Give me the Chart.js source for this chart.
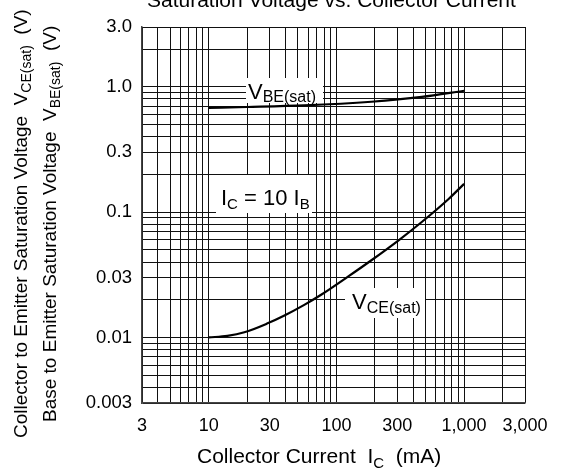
<!DOCTYPE html>
<html><head><meta charset="utf-8">
<script src="https://cdn.jsdelivr.net/npm/chart.js@4.4.0/dist/chart.umd.min.js"></script>
<style>html,body{margin:0;padding:0;background:#fff}#wrap{width:564px;height:474px;position:relative}</style>
</head><body><div id="wrap"><canvas id="c"></canvas></div>
<script>
// ---- data ----
const xGridValues = [3,4,5,6,7,8,9,10,20,30,40,50,60,70,80,90,100,200,300,400,500,600,700,800,900,1000,2000,3000];
const xLabelValues = [3,10,30,100,300,1000,3000];
const xLabelTexts = ['3','10','30','100','300','1,000','3,000'];
const yGridValues = [0.003,0.004,0.005,0.006,0.007,0.008,0.009,0.01,0.02,0.03,0.04,0.05,0.06,0.07,0.08,0.09,0.1,0.2,0.3,0.4,0.5,0.6,0.7,0.8,0.9,1,2,3];
const yLabelValues = [0.003,0.01,0.03,0.1,0.3,1,3];
const yLabelTexts = ['0.003','0.01','0.03','0.1','0.3','1.0','3.0'];
const vbeCurrent = [10,20,56,188,466,1000];
const vbeVoltage = [0.68,0.69,0.71,0.76,0.83,0.93];
const vceCurrent = [10,14,19,28.6,38.8,56,75.9,124,188,307,466,760,1000];
const vceVoltage = [0.0100,0.0103,0.0110,0.0129,0.0149,0.0182,0.0219,0.0307,0.0413,0.0596,0.0834,0.128,0.168];

const FONT = '"Liberation Sans", Arial, Helvetica, sans-serif';
function labelFor(values, texts, v){
  for (let i=0;i<values.length;i++){ if (Math.abs(Math.log10(values[i])-Math.log10(v))<1e-6) return texts[i]; }
  return '';
}
function drawRich(ctx, parts, x, y){
  let cx = x;
  for (const p of parts){
    ctx.font = p.size + 'px ' + FONT;
    ctx.fillText(p.t, cx, y + (p.dy||0));
    cx += ctx.measureText(p.t).width;
  }
}
const textPlugin = {
  id:'texts',
  afterDraw(chart){
    const ctx = chart.ctx;
    ctx.save();
    ctx.fillStyle = '#000';
    ctx.textBaseline = 'alphabetic';
    ctx.textAlign = 'left';
    drawRich(ctx,[{t:'Saturation Voltage vs. Collector Current',size:21}],147,7);
    drawRich(ctx,[{t:'Collector Current  I',size:21},{t:'C',size:15,dy:5},{t:'  (mA)',size:21}],197,463);
    ctx.save(); ctx.translate(27,438); ctx.rotate(-Math.PI/2);
    drawRich(ctx,[{t:'Collector to Emitter Saturation Voltage  V',size:19},{t:'CE(sat)',size:14,dy:4},{t:'  (V)',size:19}],0,0);
    ctx.restore();
    ctx.save(); ctx.translate(56,422); ctx.rotate(-Math.PI/2);
    drawRich(ctx,[{t:'Base to Emitter Saturation Voltage  V',size:19},{t:'BE(sat)',size:14,dy:4},{t:'  (V)',size:19}],0,0);
    ctx.restore();
    ctx.fillStyle='#fff';
    ctx.fillRect(246,78,77,25);
    ctx.fillRect(216,175,96,38);
    ctx.fillRect(345,288,80,30);
    ctx.fillStyle='#000';
    drawRich(ctx,[{t:'V',size:22},{t:'BE(sat)',size:16,dy:3}],248,99);
    drawRich(ctx,[{t:'I',size:22},{t:'C',size:15,dy:4},{t:' = 10 I',size:22},{t:'B',size:15,dy:4}],221,205);
    drawRich(ctx,[{t:'V',size:22},{t:'CE(sat)',size:16,dy:4}],352,309);
    ctx.restore();
  }
};

new Chart(document.getElementById('c'),{
  type:'line',
  data:{datasets:[
    {data:vbeCurrent.map((x,i)=>({x:x,y:vbeVoltage[i]})),borderColor:'#000',borderWidth:2.2,pointRadius:0,cubicInterpolationMode:'monotone',fill:false},
    {data:vceCurrent.map((x,i)=>({x:x,y:vceVoltage[i]})),borderColor:'#000',borderWidth:2.2,pointRadius:0,cubicInterpolationMode:'monotone',fill:false}
  ]},
  options:{
    responsive:true,maintainAspectRatio:false,animation:false,devicePixelRatio:1,
    layout:{padding:{top:27,right:39,left:0,bottom:0}},
    plugins:{legend:{display:false},tooltip:{enabled:false},title:{display:false}},
    scales:{
      x:{type:'logarithmic',min:3,max:3000,
        afterBuildTicks:(s)=>{s.ticks=xGridValues.map(v=>({value:v}));},
        afterFit:(s)=>{s.height=71;},
        ticks:{autoSkip:false,maxRotation:0,minRotation:0,padding:12,color:'#000',font:{family:FONT,size:18},
          callback:(v)=>labelFor(xLabelValues,xLabelTexts,v)},
        grid:{color:'#111',lineWidth:1,drawTicks:false},
        border:{display:true,color:'#444',width:1.5}
      },
      y:{type:'logarithmic',min:0.003,max:3,
        afterBuildTicks:(s)=>{s.ticks=yGridValues.map(v=>({value:v}));},
        afterFit:(s)=>{s.width=142;},
        ticks:{autoSkip:false,padding:10,color:'#000',font:{family:FONT,size:18.5},
          callback:(v)=>labelFor(yLabelValues,yLabelTexts,v)},
        grid:{color:'#111',lineWidth:1,drawTicks:false},
        border:{display:true,color:'#444',width:1.5}
      }
    }
  },
  plugins:[textPlugin]
});
</script>
</body></html>
